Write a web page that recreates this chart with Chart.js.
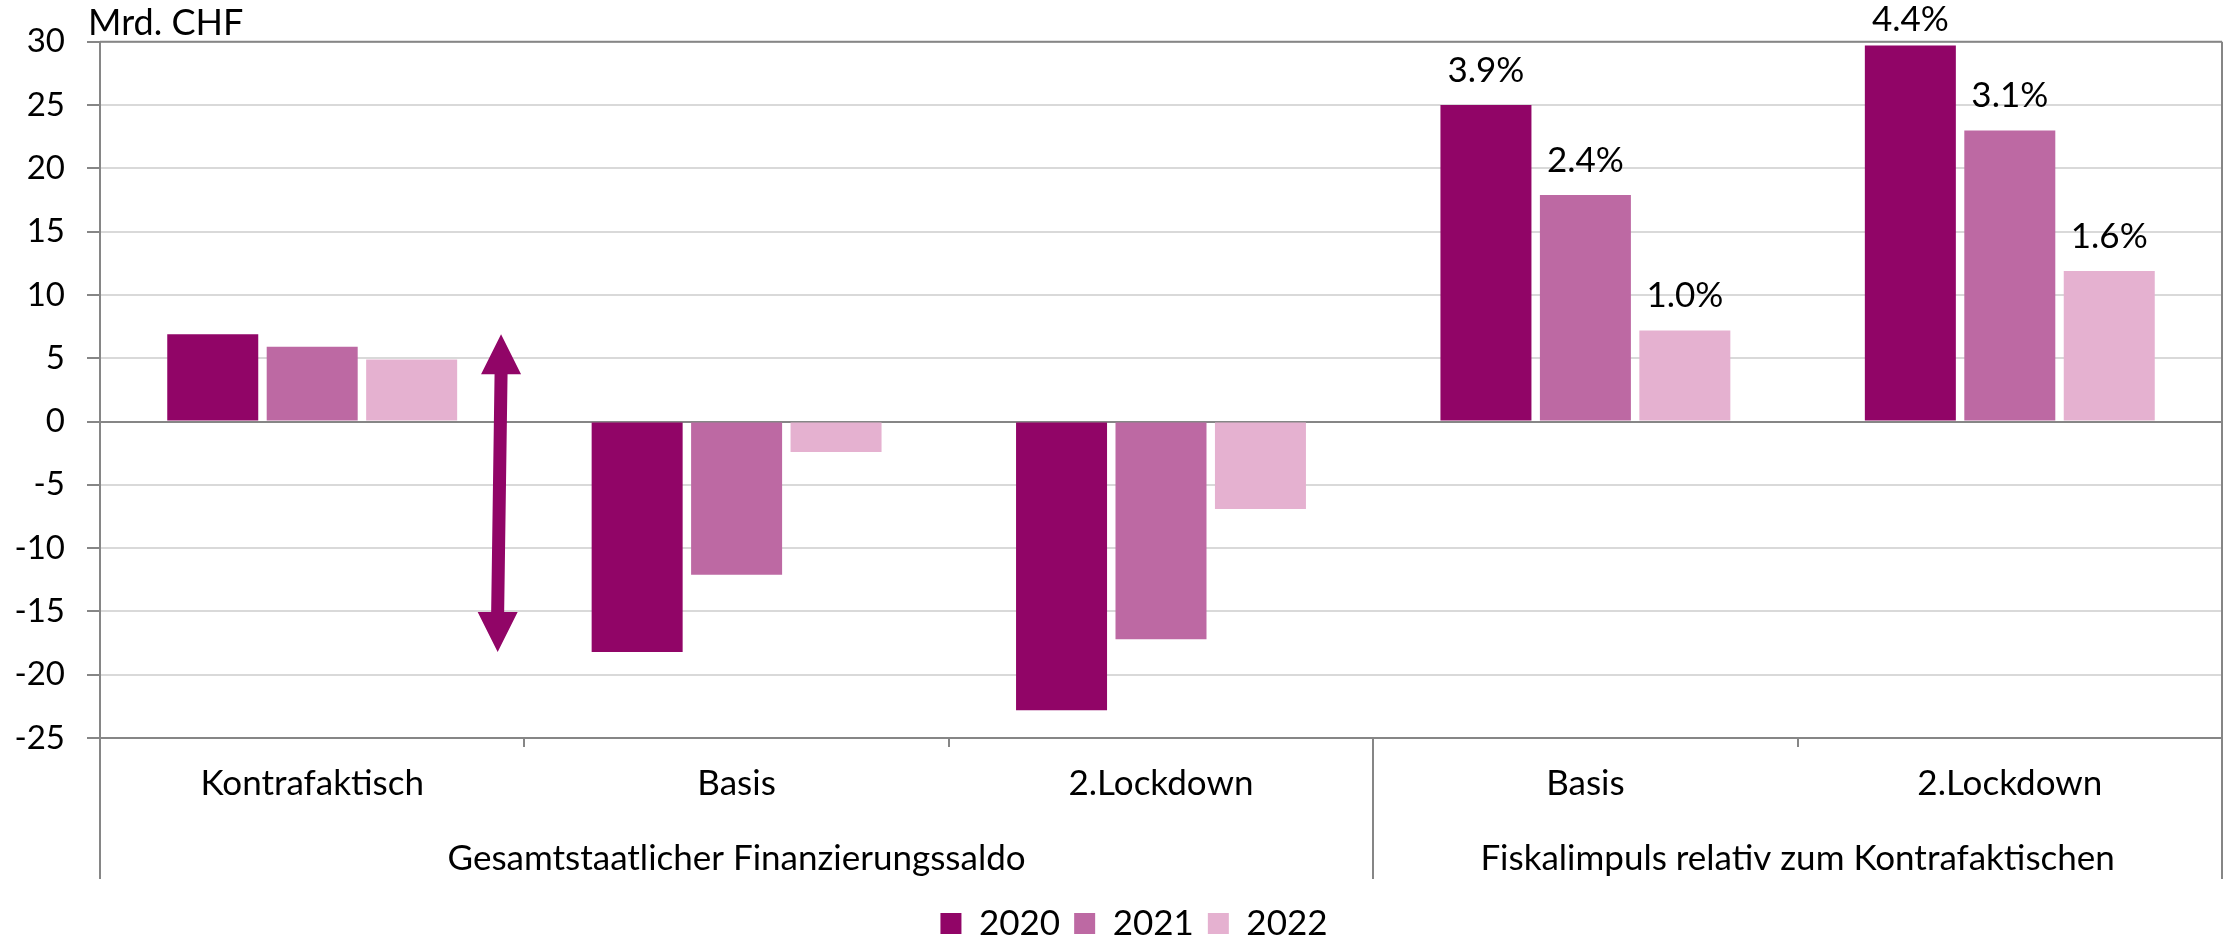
<!DOCTYPE html>
<html>
<head>
<meta charset="utf-8">
<script src="https://cdn.jsdelivr.net/npm/chart.js@4.4.1/dist/chart.umd.min.js"></script>
<style>
    html, body { margin: 0; padding: 0; background: #fff; }
    #wrap { width: 2226px; height: 938px; position: relative; }
</style>
</head>
<body>
<div id="wrap"><canvas id="saldoChart"></canvas></div>
<script>
    const kategorien = ['Kontrafaktisch', 'Basis', '2.Lockdown', 'Basis', '2.Lockdown'];
    const gruppen = ['Gesamtstaatlicher Finanzierungssaldo', 'Fiskalimpuls relativ zum Kontrafaktischen'];
    const gruppenVon = [0, 3];
    const gruppenBis = [2, 4];
    const jahre = ['2020', '2021', '2022'];
    const werte2020 = [6.9, -18.2, -22.8, 25.0, 29.7];
    const werte2021 = [5.9, -12.1, -17.2, 17.9, 23.0];
    const werte2022 = [4.9, -2.4, -6.9, 7.2, 11.9];
    const prozent2020 = [null, null, null, '3.9%', '4.4%'];
    const prozent2021 = [null, null, null, '2.4%', '3.1%'];
    const prozent2022 = [null, null, null, '1.0%', '1.6%'];
    const yMin = -25, yMax = 30, yStep = 5;
    const einheit = 'Mrd. CHF';

    const farben = ['#910567', '#BD69A3', '#E5B1D0'];
    const achsenGrau = '#868686';
    const gitterGrau = '#d9d9d9';
    const schrift = 'Lato, "Noto Sans", sans-serif';

    // Prozentlabels über den Balken, Pfeil, Gruppenbeschriftung, Rahmen
    const extras = {
        id: 'extras',
        afterLayout(chart) {
            // Legende wie im Original etwas rechts der Mitte
            if (chart.legend) chart.legend.left += 46;
        },
        afterDatasetsDraw(chart) {
            const ctx = chart.ctx;
            const x = chart.scales.x;
            const y = chart.scales.y;
            const area = chart.chartArea;

            ctx.save();
            // Rahmen oben
            ctx.strokeStyle = achsenGrau;
            ctx.lineWidth = 2;
            ctx.beginPath();
            ctx.moveTo(area.left, area.top);
            ctx.lineTo(area.right, area.top);
            ctx.stroke();

            // Trennlinien unter der x-Achse (rechts bis nach oben)
            const trenner = [gruppenVon[0] - 0.5, gruppenBis[0] + 0.5, gruppenBis[1] + 0.5];
            trenner.forEach(function(t, i) {
                const px = Math.round(x.getPixelForValue(t));
                ctx.beginPath();
                ctx.moveTo(px, i === 2 ? area.top : area.bottom);
                ctx.lineTo(px, area.bottom + 141);
                ctx.stroke();
            });

            // Gruppenbeschriftung
            ctx.fillStyle = '#000';
            ctx.font = '35px ' + schrift;
            ctx.textAlign = 'center';
            ctx.textBaseline = 'middle';
            gruppen.forEach(function(g, i) {
                const mitte = (x.getPixelForValue(gruppenVon[i] - 0.5) + x.getPixelForValue(gruppenBis[i] + 0.5)) / 2;
                ctx.fillText(g, mitte, area.bottom + 121);
            });

            // Einheit oben links
            ctx.textAlign = 'left';
            ctx.font = '36px ' + schrift;
            ctx.fillText(einheit, 88, 23);

            // Prozentwerte
            ctx.textAlign = 'center';
            ctx.textBaseline = 'alphabetic';
            ctx.font = '35px ' + schrift;
            const labels = [prozent2020, prozent2021, prozent2022];
            chart.data.datasets.forEach(function(ds, di) {
                const meta = chart.getDatasetMeta(di);
                meta.data.forEach(function(bar, i) {
                    const txt = labels[di][i];
                    if (!txt) return;
                    const basis = Math.max(bar.y - 23, 31);
                    ctx.fillText(txt, bar.x, basis);
                });
            });

            // Doppelpfeil zwischen Kontrafaktisch und Basis
            const xOben = x.getPixelForValue(0.445);
            const xUnten = x.getPixelForValue(0.437);
            const yOben = y.getPixelForValue(werte2020[0]);
            const yUnten = y.getPixelForValue(werte2020[1]);
            const kopf = 40, halb = 20, schaft = 6.5;
            ctx.fillStyle = farben[0];
            ctx.beginPath();
            ctx.moveTo(xOben, yOben);
            ctx.lineTo(xOben + halb, yOben + kopf);
            ctx.lineTo(xOben + schaft, yOben + kopf);
            ctx.lineTo(xUnten + schaft, yUnten - kopf);
            ctx.lineTo(xUnten + halb, yUnten - kopf);
            ctx.lineTo(xUnten, yUnten);
            ctx.lineTo(xUnten - halb, yUnten - kopf);
            ctx.lineTo(xUnten - schaft, yUnten - kopf);
            ctx.lineTo(xOben - schaft, yOben + kopf);
            ctx.lineTo(xOben - halb, yOben + kopf);
            ctx.closePath();
            ctx.fill();
            ctx.restore();
        }
    };

    const data = {
        labels: kategorien,
        datasets: [
            { label: jahre[0], data: werte2020, backgroundColor: farben[0] },
            { label: jahre[1], data: werte2021, backgroundColor: farben[1] },
            { label: jahre[2], data: werte2022, backgroundColor: farben[2] }
        ]
    };

    const config = {
        type: 'bar',
        data: data,
        options: {
            responsive: true,
            maintainAspectRatio: false,
            animation: false,
            categoryPercentage: 0.703,
            barPercentage: 0.915,
            layout: {
                padding: { left: 0, right: 4, top: 40, bottom: 0 }
            },
            scales: {
                x: {
                    afterFit: function(scale) { scale.height = 154; },
                    grid: {
                        offset: true,
                        drawOnChartArea: false,
                        drawTicks: true,
                        tickLength: 9,
                        color: achsenGrau,
                        lineWidth: 2
                    },
                    border: { color: achsenGrau, width: 2 },
                    ticks: {
                        color: '#000',
                        font: { family: schrift, size: 35 },
                        padding: 16,
                        maxRotation: 0,
                        autoSkip: false
                    }
                },
                y: {
                    min: yMin,
                    max: yMax,
                    afterFit: function(scale) { scale.width = 100; },
                    grid: {
                        color: function(c) {
                            if (c.tick.value === 0 || c.tick.value === yMin) return achsenGrau;
                            return gitterGrau;
                        },
                        lineWidth: 2,
                        tickColor: achsenGrau,
                        tickLength: 13
                    },
                    border: { color: achsenGrau, width: 2 },
                    ticks: {
                        stepSize: yStep,
                        color: '#000',
                        font: { family: schrift, size: 33 },
                        padding: 22
                    }
                }
            },
            plugins: {
                legend: {
                    position: 'bottom',
                    maxHeight: 46,
                    labels: {
                        color: '#000',
                        font: { family: schrift, size: 35 },
                        boxWidth: 21,
                        boxHeight: 21,
                        padding: 14
                    }
                },
                tooltip: { enabled: false }
            }
        },
        plugins: [extras]
    };

    const ctx = document.getElementById('saldoChart').getContext('2d');
    const chart = new Chart(ctx, config);
</script>
</body>
</html>
